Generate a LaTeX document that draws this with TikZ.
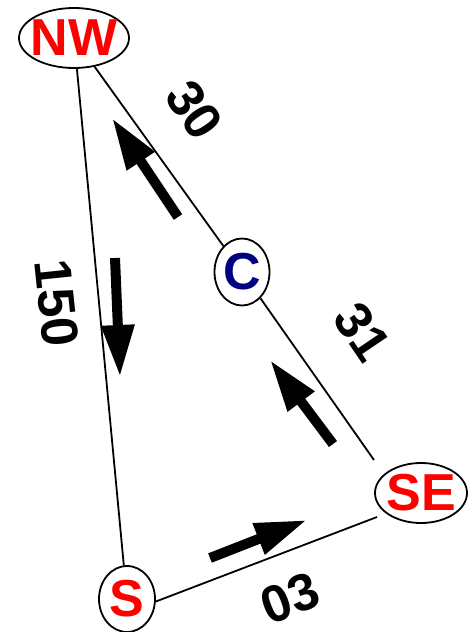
\documentclass[tikz,border=0pt]{standalone}
\usepackage{fontspec}
\setmainfont{Liberation Sans}
\usetikzlibrary{arrows.meta, shapes.geometric}
\definecolor{stred}{HTML}{FF0000}
\definecolor{stblue}{HTML}{000080}
\newcommand{\StationF}{\fontsize{52}{52}\selectfont\bfseries}

\begin{document}
\begin{tikzpicture}[x=1pt, y=-1pt,
    station/.style={ellipse, draw, line width=1.8pt, inner sep=0pt,
                    font=\StationF, text=stred},
    edge/.style={line width=1.8pt},
    flow/.style={line width=10pt, -{Triangle[length=52pt, width=31pt]}},
    weight/.style={font=\StationF}]
  \useasboundingbox (0,0) rectangle (468,632);

  % stations
  \node[station, minimum width=110pt, minimum height=60pt] (NW) at (74,38) {\makebox[0pt]{NW}};
  \node[station, minimum width=55pt, minimum height=67pt, text=stblue] (C) at (242,272) {\makebox[0pt]{C}};
  \node[station, minimum width=92pt, minimum height=60pt] (SE) at (421,493) {\makebox[0pt]{SE}};
  \node[station, minimum width=56pt, minimum height=66pt] (S) at (127,599) {\makebox[0pt]{S}};

  % links
  \coordinate (SEtop) at (374,460);
  \coordinate (SEbot) at (377,517);
  \draw[edge] (NW) -- (C);
  \draw[edge] (C) -- (SEtop);
  \draw[edge] (S.-5) -- (SEbot);
  \draw[edge] (S) -- (NW);

  % weights
  \node[weight, rotate=-56] (w30) at (194,110) {30};
  \node[weight, rotate=-56] (w31) at (362,332) {31};
  \node[weight, rotate=-84] (w150) at (57,303) {150};
  \node[weight, rotate=21] (w03) at (290,598) {03};

  % direction of travel
  \coordinate (f1a) at (178,217); \coordinate (f1b) at (112,118);
  \coordinate (f2a) at (115,258); \coordinate (f2b) at (120,377);
  \coordinate (f3a) at (333,444); \coordinate (f3b) at (270,360);
  \coordinate (f4a) at (210,558); \coordinate (f4b) at (307,520);
  \draw[flow] (f1a) -- (f1b);
  \draw[flow] (f2a) -- (f2b);
  \draw[flow] (f3a) -- (f3b);
  \draw[flow] (f4a) -- (f4b);
\end{tikzpicture}
\end{document}
